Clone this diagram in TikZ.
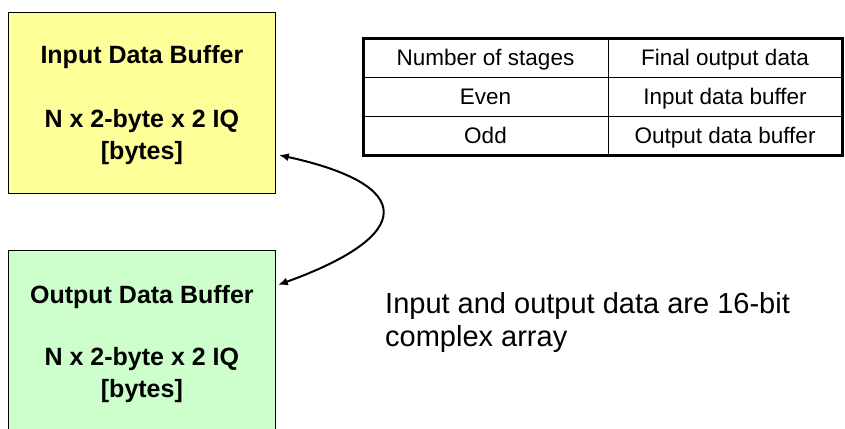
\documentclass[tikz,border=0pt]{standalone}
\usepackage{fontspec}
\setmainfont{Liberation Sans}
\usetikzlibrary{calc,arrows.meta}
\definecolor{ybuf}{HTML}{FFFF99}
\definecolor{gbuf}{HTML}{CCFFCC}
\begin{document}
\begin{tikzpicture}[x=1pt,y=-1pt,
  bufbox/.style={draw=black,line width=0.8pt,anchor=north west,inner sep=0pt,minimum width=267pt},
  buftitle/.style={font=\fontsize{25}{32}\selectfont\bfseries,anchor=center,inner sep=0pt},
  bufsize/.style={font=\fontsize{25}{32}\selectfont\bfseries,align=center,anchor=north,inner sep=0pt},
  cell/.style={font=\fontsize{22.5}{27}\selectfont,anchor=base,inner sep=0pt},
  note/.style={font=\fontsize{29}{33}\selectfont,align=left,anchor=north west,inner sep=0pt},
  link/.style={line width=2pt,{Latex[length=10pt,width=8pt]}-{Latex[length=10pt,width=8pt]}}]
\useasboundingbox (0,0) rectangle (845,428);
% buffers
\node[bufbox,fill=ybuf,minimum height=181pt] (ib) at (8,12) {};
\node[bufbox,fill=gbuf,minimum height=200pt] (ob) at (8,250) {};
\node[buftitle] (ibt) at ($(ib.north)+(0,45)$) {Input Data Buffer};
\node[bufsize] (ibs) at ($(ib.north)+(0,97)$) {N x 2-byte x 2 IQ\\{}[bytes]};
\node[buftitle] (obt) at ($(ob.north)+(0,47)$) {Output Data Buffer};
\node[bufsize] (obs) at ($(ob.north)+(0,97)$) {N x 2-byte x 2 IQ\\{}[bytes]};
% connector
\coordinate (ia) at ($(ib.north east)+(3,143)$);
\coordinate (oa) at ($(ob.north east)+(2,35)$);
\draw[link] (ia) .. controls (416,185) and (416,235) .. (oa);
% table
\coordinate (t0) at (363,39);
\coordinate (t1) at (842,155);
\draw[line width=0.9pt] (363,77) -- (842,77) (363,116) -- (842,116) (608,39) -- (608,155);
\draw[line width=3pt] (t0) rectangle (t1);
\node[cell] (c11) at (485.5,66) {Number of stages};
\node[cell] (c12) at (725,66) {Final output data};
\node[cell] (c21) at (485.5,104.5) {Even};
\node[cell] (c22) at (725,104.5) {Input data buffer};
\node[cell] (c31) at (485.5,143) {Odd};
\node[cell] (c32) at (725,143) {Output data buffer};
% note
\node[note] (nt) at (385,292) {Input and output data are 16-bit\\complex array};
\end{tikzpicture}
\end{document}
